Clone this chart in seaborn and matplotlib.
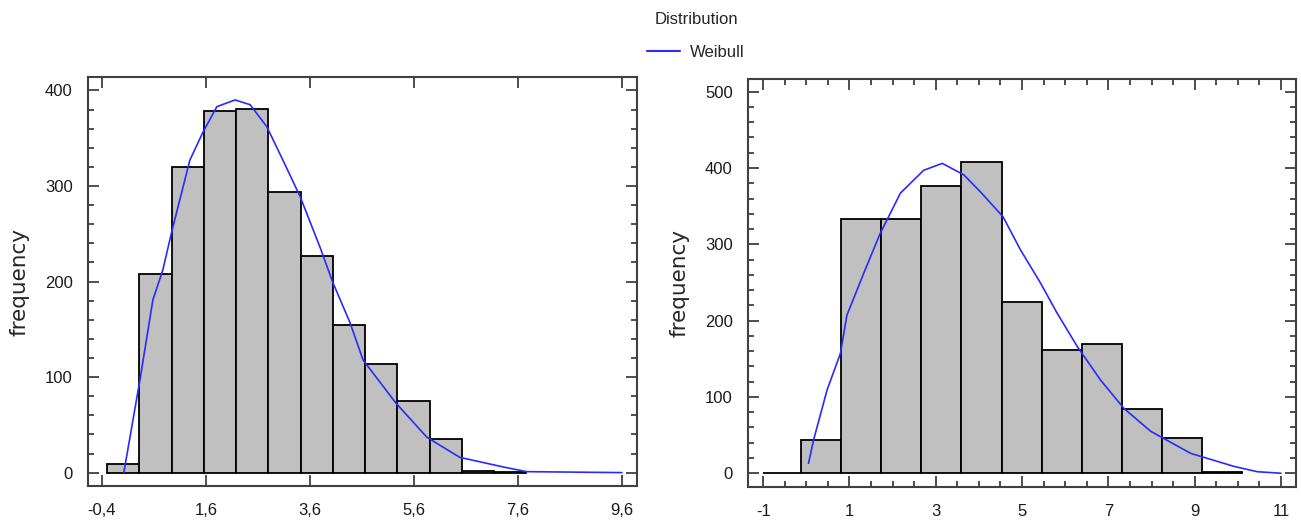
import numpy as np
import pandas as pd
import matplotlib
matplotlib.use("Agg")
import matplotlib.pyplot as plt
from matplotlib.lines import Line2D
from matplotlib.ticker import MultipleLocator, NullLocator
import seaborn as sns

# left histogram
left_edges = [-0.3, 0.32, 0.94, 1.56, 2.18, 2.80, 3.42, 4.04, 4.66, 5.28, 5.90, 6.52, 7.14, 7.76]
left_counts = [9, 208, 320, 378, 381, 294, 227, 154, 114, 75, 35, 2, 1]
left_fit_x = [0.02, 0.33, 0.58, 0.77, 0.95, 1.29, 1.54, 1.81, 2.16, 2.45, 2.77, 3.08, 3.41,
              3.80, 4.04, 4.37, 4.62, 5.25, 5.85, 6.48, 7.31, 7.77, 9.6]
left_fit_y = [0, 97, 181, 212, 254, 327, 356, 383, 390, 385, 362, 327, 289,
              235, 199, 157, 118, 73, 37, 16, 6, 1, 0]
left_ticks = [-0.4, 1.6, 3.6, 5.6, 7.6, 9.6]
left_ticklabels = ["-0,4", "1,6", "3,6", "5,6", "7,6", "9,6"]

# right histogram
right_edges = [-1.0, -0.125, 0.805, 1.735, 2.665, 3.595, 4.525, 5.455, 6.385, 7.315, 8.245, 9.175, 10.105]
right_counts = [0, 43, 333, 333, 377, 408, 224, 162, 169, 84, 46, 2]
right_fit_x = [0.05, 0.17, 0.48, 0.79, 0.94, 1.33, 1.71, 2.18, 2.72, 3.15, 3.65, 4.03, 4.56,
               4.96, 5.43, 5.81, 6.28, 6.82, 7.36, 7.98, 8.91, 9.91, 10.45, 11.0]
right_fit_y = [13, 44, 109, 157, 207, 262, 314, 367, 397, 406, 391, 369, 336,
               293, 249, 210, 166, 122, 85, 55, 26, 9, 2, 0]
right_ticks = [-1, 1, 3, 5, 7, 9, 11]
right_ticklabels = ["-1", "1", "3", "5", "7", "9", "11"]

sns.set_style("white")
plt.rcParams["font.family"] = ["Liberation Sans", "DejaVu Sans"]

fig = plt.figure(figsize=(13.01, 5.2), dpi=100)
ax1 = fig.add_axes([0.0676, 0.0654, 0.422, 0.7865])
ax2 = fig.add_axes([0.575, 0.0635, 0.4212, 0.7846])

blue = "#2a2aff"


def draw(ax, edges, counts, fx, fy):
    e = np.array(edges)
    centers = (e[:-1] + e[1:]) / 2
    df = pd.DataFrame({"x": centers, "w": counts})
    sns.histplot(data=df, x="x", weights="w", bins=edges, stat="count",
                 color="#c0c0c0", edgecolor="black", linewidth=1.3, alpha=1, ax=ax)
    sns.lineplot(x=fx, y=fy, color=blue, linewidth=1.2, ax=ax, sort=False)
    ax.set_xlabel("")
    ax.set_ylabel("frequency", fontsize=15.5, family=["DejaVu Sans"], labelpad=11)
    for s in ax.spines.values():
        s.set_visible(True)
        s.set_color("#404040")
        s.set_linewidth(1.5)
    ax.tick_params(which="both", direction="in", top=True, right=True, bottom=True, left=True,
                   color="#303030", width=1.2, labelsize=12, labelcolor="#1a1a1a")
    ax.tick_params(which="major", length=8)
    ax.tick_params(which="minor", length=4)
    ax.tick_params(axis="x", which="major", pad=12)
    ax.tick_params(axis="y", which="major", pad=11)


draw(ax1, left_edges, left_counts, left_fit_x, left_fit_y)
ax1.set_xlim(-0.67, 9.89)
ax1.set_ylim(-14, 414)
ax1.set_xticks(left_ticks, left_ticklabels)
ax1.xaxis.set_minor_locator(NullLocator())
ax1.set_yticks([0, 100, 200, 300, 400])
ax1.yaxis.set_minor_locator(MultipleLocator(20))

draw(ax2, right_edges, right_counts, right_fit_x, right_fit_y)
ax2.set_xlim(-1.35, 11.35)
ax2.set_ylim(-18, 516.6)
ax2.set_xticks(right_ticks, right_ticklabels)
ax2.set_yticks([0, 100, 200, 300, 400, 500])
ax2.xaxis.set_minor_locator(MultipleLocator(0.5))
ax2.yaxis.set_minor_locator(MultipleLocator(20))

handles = [Line2D([0], [0], color=blue, linewidth=1.5)]
fig.legend(handles, ["Weibull"], title="Distribution", loc="upper center",
           bbox_to_anchor=(0.535, 1.005), frameon=False, fontsize=12, title_fontsize=12,
           handlelength=2.0, handletextpad=0.6, labelspacing=1.05)

fig.savefig("out.png", dpi=100)
